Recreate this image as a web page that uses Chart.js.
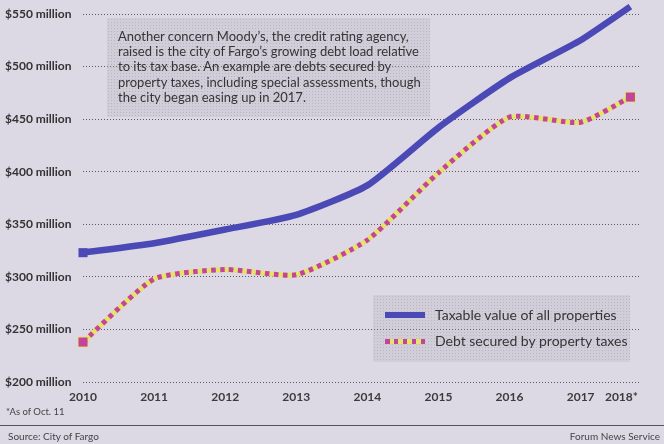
<!DOCTYPE html>
<html>
<head>
<meta charset="utf-8">
<script src="https://cdn.jsdelivr.net/npm/chart.js@4/dist/chart.umd.min.js"></script>
<style>
  html, body { margin: 0; padding: 0; }
  body { width: 664px; height: 444px; background: #dcd9e4; font-family: Lato, 'Open Sans', sans-serif; overflow: hidden; }
  #wrap { position: relative; width: 664px; height: 444px; }
  #wrap canvas { position: absolute; left: 0; top: 0; }
  .halftone {
    background-color: rgba(175, 172, 182, 0.25);
    background-image: radial-gradient(rgba(90, 88, 100, 0.2) 0.7px, transparent 0.9px);
    background-size: 3px 3px;
  }
  #note {
    position: absolute; left: 107px; top: 18px; width: 312px; height: 88px;
    padding: 11px 0 0 11px; font-size: 13px; line-height: 15.2px; color: #353535;
  }
  #legend {
    position: absolute; left: 373px; top: 295px; width: 257px; height: 67px;
  }
  .leg-item { position: absolute; left: 12px; height: 20px; font-size: 14px; color: #353535; line-height: 20px; white-space: nowrap; }
  .leg-item .sw { position: absolute; left: 0; width: 40px; }
  .leg-item span.t { position: absolute; left: 50px; top: 0; }
  .foot { position: absolute; font-size: 10px; color: #444; white-space: nowrap; }
  #rule { position: absolute; left: 0; top: 425px; width: 664px; height: 0; border-top: 1px solid #555; }
</style>
</head>
<body>
<div id="wrap">
  <canvas id="c" width="664" height="444"></canvas>
  <div id="note" class="halftone">Another concern Moody’s, the credit rating agency,<br>raised is the city of Fargo’s growing debt load relative<br>to its tax base. An example are debts secured by<br>property taxes, including special assessments, though<br>the city began easing up in 2017.</div>
  <div id="legend" class="halftone"></div>
  <div class="foot" style="left:6px; top:406px; font-size:9.5px;">*As of Oct. 11</div>
  <div id="rule"></div>
  <div class="foot" style="left:8px; top:430px;">Source: City of Fargo</div>
  <div class="foot" style="right:4px; top:430px;">Forum News Service</div>
</div>
<script>
// ---- data ----
const yearPos    = [2010, 2011, 2012, 2013, 2014, 2015, 2016, 2017, 2017.7];
const yearLabels = ['2010', '2011', '2012', '2013', '2014', '2015', '2016', '2017', '2018*'];
const taxableValue = [323, 332, 345, 359, 387, 442, 489, 525, 557];
const debtSecured  = [238, 298, 307, 302, 335, 399, 452, 447, 471];
const yTickValues  = [200, 250, 300, 350, 400, 450, 500, 550];
const seriesNames  = ['Taxable value of all properties', 'Debt secured by property taxes'];

// ---- styles ----
const BLUE = '#4b49b6';
const MAGENTA = '#c4449a';
const YELLOW = '#e4e466';
const TENSION = 0.18;

const toPts = vals => vals.map((v, i) => ({ x: yearPos[i], y: v }));
const endRadius = (r) => (ctx) => (ctx.dataIndex === 0 || ctx.dataIndex === yearPos.length - 1) ? r : 0;

Chart.defaults.font.family = 'Lato, "Open Sans", sans-serif';

const chart = new Chart(document.getElementById('c'), {
  type: 'line',
  data: {
    datasets: [
      {
        label: seriesNames[0], data: toPts(taxableValue),
        borderColor: BLUE, backgroundColor: BLUE, borderWidth: 6.5,
        tension: TENSION, clip: false,
        pointStyle: 'rect', pointRadius: endRadius(6.4), pointBorderWidth: 0,
        pointBackgroundColor: BLUE, pointHoverRadius: 0
      },
      {
        label: seriesNames[1], data: toPts(debtSecured),
        borderColor: MAGENTA, backgroundColor: MAGENTA, borderWidth: 5,
        borderDash: [4.5, 4.5], borderCapStyle: 'butt',
        tension: TENSION, clip: false,
        pointStyle: 'rect', pointRadius: endRadius(6.4), pointBorderWidth: 0,
        pointBackgroundColor: MAGENTA, pointHoverRadius: 0
      },
      {
        label: seriesNames[1] + ' (base)', data: toPts(debtSecured),
        borderColor: YELLOW, backgroundColor: YELLOW, borderWidth: 5,
        tension: TENSION, clip: false,
        pointStyle: 'rect', pointRadius: endRadius(7.6), pointBorderWidth: 0,
        pointBackgroundColor: YELLOW, pointHoverRadius: 0
      }
    ]
  },
  options: {
    responsive: false,
    animation: false,
    events: [],
    layout: { padding: { left: 5, right: 2, top: 14, bottom: 32 } },
    plugins: { legend: { display: false }, tooltip: { enabled: false } },
    scales: {
      x: {
        type: 'linear', min: 2010, max: 2017.84,
        afterBuildTicks: (s) => { s.ticks = yearPos.map(v => ({ value: v })); },
        afterFit: (s) => { s.height = 30; },
        grid: { display: false, drawTicks: false },
        border: { display: false },
        ticks: {
          autoSkip: false, maxRotation: 0, padding: 8,
          color: '#3c3c3c', font: { size: 12, weight: 'bold' },
          callback: (v, i) => i === yearPos.length - 1 ? yearLabels[i] + '\u2003\u2003' : yearLabels[i]
        }
      },
      y: {
        min: 200, max: 550,
        afterBuildTicks: (s) => { s.ticks = yTickValues.map(v => ({ value: v })); },
        afterFit: (s) => { s.width = 78; },
        grid: { color: '#5a5a5a', lineWidth: 1, drawTicks: false },
        border: { display: false, dash: [1, 2] },
        ticks: {
          crossAlign: 'far', color: '#333',
          font: { size: 12, weight: 'bold' },
          callback: (v) => '$' + v + ' million'
        }
      }
    }
  }
});

// ---- legend built from dataset labels/styles ----
const legend = document.getElementById('legend');
const items = [
  { ds: chart.data.datasets[0], top: 10, sw: `background:${BLUE}; height:6px; top:7px;` },
  { ds: chart.data.datasets[1], top: 36, sw: `height:5px; top:8px; background: repeating-linear-gradient(90deg, ${MAGENTA} 0 4.5px, ${YELLOW} 4.5px 9px);` }
];
items.forEach(it => {
  const d = document.createElement('div');
  d.className = 'leg-item';
  d.style.top = it.top + 'px';
  d.innerHTML = `<div class="sw" style="${it.sw}"></div><span class="t"></span>`;
  d.querySelector('.t').textContent = it.ds.label;
  legend.appendChild(d);
});
</script>
</body>
</html>
